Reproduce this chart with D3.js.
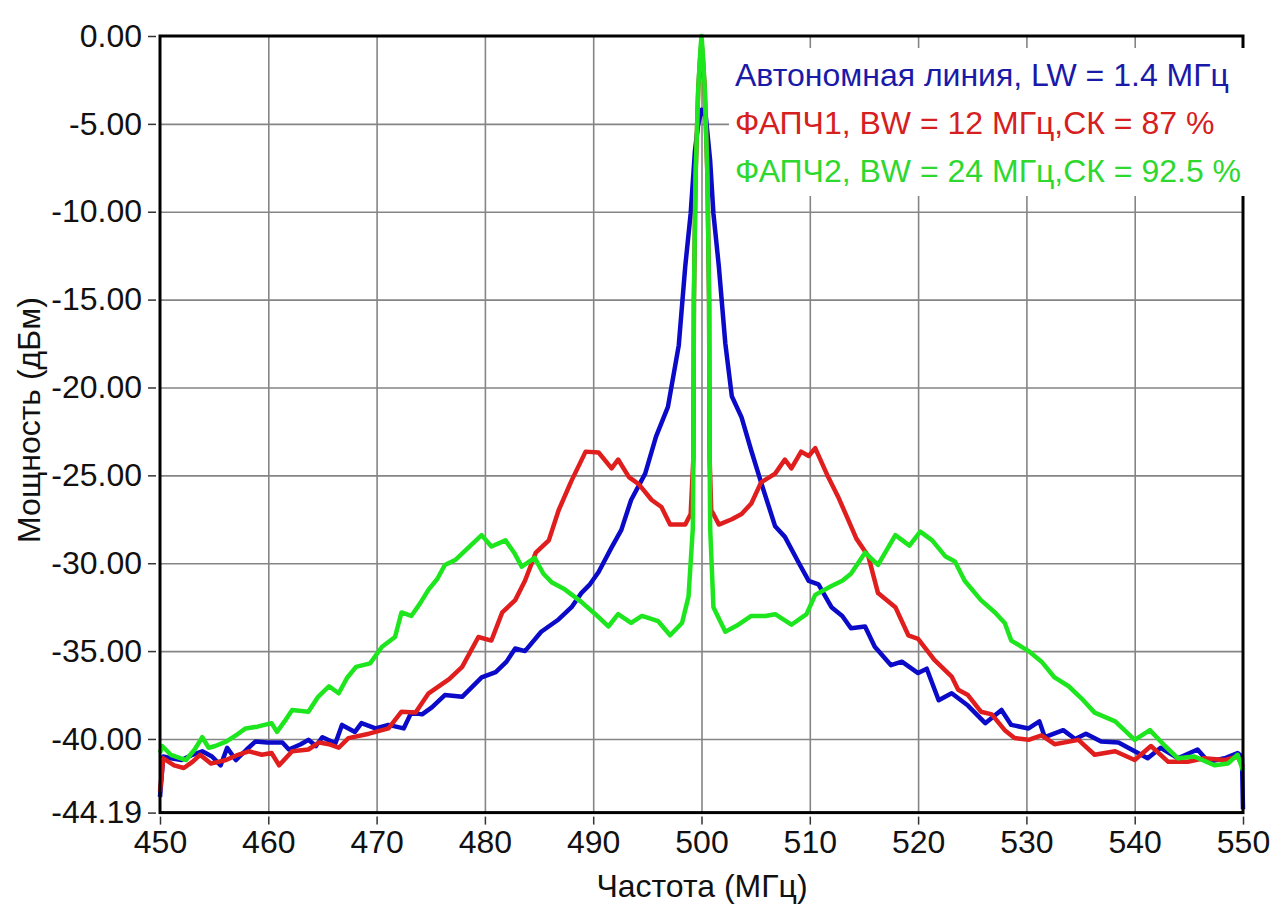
<!DOCTYPE html>
<html>
<head>
<meta charset="utf-8">
<script src="https://cdn.jsdelivr.net/npm/d3@7"></script>
<style>
  body { margin: 0; background: #fff; }
  svg { display: block; font-family: Arial, "Liberation Sans", sans-serif; }
</style>
</head>
<body>
<svg id="chart" width="1275" height="906"></svg>
<script>
// spectra: [frequency MHz, power dBm]
var blueSeries = [[450.0,-43.3],[450.3,-41.0],[451.0,-41.1],[452.0,-41.2],[453.0,-40.9],[453.9,-40.7],[454.8,-41.0],[455.6,-41.5],[456.2,-40.5],[457.0,-41.2],[458.0,-40.6],[458.8,-40.15],[459.9,-40.2],[461.3,-40.2],[461.9,-40.6],[463.0,-40.3],[463.7,-40.05],[464.4,-40.4],[465.0,-39.9],[466.2,-40.25],[466.8,-39.2],[468.0,-39.6],[468.6,-39.1],[469.9,-39.4],[471.1,-39.2],[472.5,-39.4],[473.2,-38.5],[474.2,-38.6],[475.1,-38.2],[476.3,-37.5],[477.9,-37.6],[479.7,-36.5],[481.0,-36.2],[482.0,-35.6],[482.8,-34.85],[483.7,-35.0],[485.2,-33.9],[486.8,-33.2],[488.0,-32.5],[488.9,-31.7],[489.7,-31.2],[490.5,-30.5],[491.7,-29.1],[492.6,-28.1],[493.5,-26.4],[494.8,-24.9],[495.8,-22.8],[496.9,-21.1],[497.9,-17.6],[498.5,-13.1],[499.0,-10.1],[499.4,-6.5],[499.7,-5.0],[500.0,-4.2],[500.4,-4.6],[500.8,-7.1],[501.1,-10.1],[501.6,-13.1],[502.2,-17.5],[502.8,-20.5],[503.7,-21.7],[504.6,-23.6],[505.5,-25.4],[506.8,-27.9],[507.7,-28.5],[509.0,-30.0],[509.9,-31.0],[510.8,-31.2],[512.0,-32.5],[513.0,-33.0],[513.8,-33.7],[515.1,-33.6],[516.0,-34.75],[517.5,-35.8],[518.5,-35.6],[520.0,-36.25],[520.8,-36.0],[521.9,-37.8],[523.1,-37.4],[524.6,-38.1],[526.2,-39.1],[527.7,-38.35],[528.6,-39.2],[530.2,-39.4],[531.2,-39.0],[531.7,-39.9],[533.4,-39.5],[534.5,-40.0],[535.5,-39.7],[536.9,-40.15],[538.5,-40.2],[540.0,-40.7],[541.2,-41.1],[542.4,-40.5],[544.0,-41.1],[545.8,-40.6],[546.8,-41.3],[548.3,-41.1],[549.5,-40.8],[549.9,-41.0],[550.0,-44.0]];

var redSeries = [[450.0,-43.0],[450.3,-41.1],[451.3,-41.5],[452.2,-41.65],[453.0,-41.3],[453.7,-40.9],[454.7,-41.4],[456.1,-41.2],[457.2,-40.9],[458.2,-40.7],[459.4,-40.9],[460.3,-40.8],[461.0,-41.5],[462.2,-40.7],[463.7,-40.6],[464.7,-40.2],[465.6,-40.3],[466.5,-40.5],[467.4,-39.95],[469.3,-39.7],[471.1,-39.4],[472.3,-38.45],[473.6,-38.5],[474.8,-37.4],[476.7,-36.6],[477.9,-35.9],[479.4,-34.2],[480.6,-34.4],[481.6,-32.8],[482.8,-32.1],[483.7,-31.0],[484.7,-29.4],[485.9,-28.7],[486.8,-27.0],[488.0,-25.3],[489.3,-23.65],[490.5,-23.7],[491.7,-24.6],[492.3,-24.1],[493.3,-25.1],[494.2,-25.5],[495.4,-26.4],[496.3,-26.8],[497.1,-27.8],[498.5,-27.8],[499.0,-27.2],[499.25,-24.0],[499.3,-15.0],[499.45,-8.0],[499.7,-3.0],[499.9,-1.0],[500.0,-0.4],[500.1,-1.0],[500.3,-3.0],[500.55,-8.0],[500.7,-15.0],[500.75,-24.0],[500.9,-27.0],[501.1,-27.2],[501.6,-27.8],[502.8,-27.5],[503.7,-27.2],[504.6,-26.6],[505.5,-25.4],[506.8,-24.9],[507.7,-24.1],[508.3,-24.6],[509.2,-23.65],[509.9,-23.9],[510.5,-23.45],[511.7,-25.1],[512.6,-26.2],[513.6,-27.6],[514.3,-28.6],[515.4,-29.6],[516.3,-31.7],[517.9,-32.5],[519.1,-34.1],[520.0,-34.3],[521.5,-35.5],[523.1,-36.45],[523.7,-37.2],[524.6,-37.5],[525.8,-38.45],[526.8,-38.6],[528.0,-39.5],[528.9,-39.95],[530.2,-40.05],[531.4,-39.8],[532.6,-40.3],[534.8,-40.05],[536.3,-40.9],[538.2,-40.7],[540.0,-41.2],[541.5,-40.4],[543.1,-41.3],[544.9,-41.3],[546.4,-41.1],[548.3,-41.2],[549.5,-41.0],[550.0,-41.6]];

var greenSeries = [[450.0,-40.8],[450.2,-40.4],[451.0,-40.9],[452.4,-41.2],[453.2,-40.6],[453.9,-39.9],[454.5,-40.5],[455.1,-40.4],[456.1,-40.15],[457.0,-39.8],[457.9,-39.4],[459.0,-39.3],[460.3,-39.1],[460.8,-39.6],[461.5,-39.0],[462.2,-38.35],[463.7,-38.45],[464.6,-37.6],[465.6,-37.0],[466.5,-37.4],[467.3,-36.5],[468.1,-35.9],[469.4,-35.7],[470.5,-34.75],[471.7,-34.2],[472.3,-32.8],[473.2,-33.0],[474.0,-32.3],[474.8,-31.5],[475.6,-30.9],[476.3,-30.1],[477.3,-29.8],[478.5,-29.1],[479.7,-28.4],[480.6,-29.05],[481.9,-28.7],[482.7,-29.4],[483.4,-30.2],[484.6,-29.7],[485.4,-30.6],[486.2,-31.1],[487.4,-31.5],[488.9,-32.2],[490.2,-32.9],[491.4,-33.6],[492.3,-32.9],[493.5,-33.4],[494.5,-33.0],[496.0,-33.3],[497.1,-34.1],[498.2,-33.4],[498.8,-31.9],[499.2,-28.0],[499.25,-24.0],[499.3,-15.0],[499.45,-8.0],[499.7,-3.0],[499.9,-0.8],[500.0,0.0],[500.1,-0.8],[500.3,-3.0],[500.55,-8.0],[500.7,-15.0],[500.75,-24.0],[500.8,-28.0],[501.1,-32.5],[502.2,-33.9],[503.4,-33.5],[504.6,-33.0],[505.9,-33.0],[506.8,-32.9],[508.3,-33.5],[509.7,-32.9],[510.5,-31.8],[512.0,-31.3],[513.0,-31.0],[513.8,-30.6],[515.1,-29.4],[516.3,-30.1],[517.9,-28.4],[519.2,-29.0],[520.2,-28.2],[521.3,-28.7],[522.5,-29.6],[523.4,-29.9],[524.3,-31.0],[525.8,-32.1],[527.1,-32.8],[528.0,-33.4],[528.6,-34.4],[530.2,-35.0],[531.4,-35.6],[532.6,-36.5],[533.9,-37.0],[535.1,-37.7],[536.3,-38.5],[538.2,-39.0],[540.0,-40.05],[541.4,-39.5],[542.8,-40.4],[544.0,-41.1],[545.5,-41.0],[547.4,-41.5],[548.6,-41.4],[549.5,-40.9],[550.0,-41.8]];

var xTicks = [450, 460, 470, 480, 490, 500, 510, 520, 530, 540, 550];
var yTicks = [0, -5, -10, -15, -20, -25, -30, -35, -40, -44.19];

var legendLabels = ["Автономная линия, LW = 1.4 МГц", "ФАПЧ1, BW = 12 МГц,СК = 87 %", "ФАПЧ2, BW = 24 МГц,СК = 92.5 %"];
var lineColors = ["#0a0ac8", "#e01e1e", "#1ee61e"];
var textColors = ["#1a1aa8", "#d62020", "#2ed82e"];

var svg = d3.select("#chart");
// plot box in pixels
var pL = 160, pR = 1243, pT = 36, pB = 812.6;

var x = d3.scaleLinear().domain([450, 550]).range([pL, pR]);
var y = d3.scaleLinear().domain([-44.19, 0]).range([pB, pT]);

// grid
svg.append("g")
  .attr("transform", "translate(0," + pB + ")")
  .call(d3.axisBottom(x).tickValues(xTicks.slice(1, -1)).tickSize(-(pB - pT)).tickFormat(""))
  .call(function(g){ g.select(".domain").remove(); })
  .selectAll("line").attr("stroke", "#858585").attr("stroke-width", 1.6);

svg.append("g")
  .attr("transform", "translate(" + pL + ",0)")
  .call(d3.axisLeft(y).tickValues(yTicks.slice(1, -1)).tickSize(-(pR - pL)).tickFormat(""))
  .call(function(g){ g.select(".domain").remove(); })
  .selectAll("line").attr("stroke", "#858585").attr("stroke-width", 1.6);

// axes, ticks sit a little off the frame
var xAxis = svg.append("g")
  .attr("transform", "translate(0," + (pB + 4) + ")")
  .call(d3.axisBottom(x).tickValues(xTicks).tickSize(8).tickPadding(6).tickFormat(d3.format("d")));
var yAxis = svg.append("g")
  .attr("transform", "translate(" + (pL - 4) + ",0)")
  .call(d3.axisLeft(y).tickValues(yTicks).tickSize(8).tickPadding(6)
    .tickFormat(function(d){ return d.toFixed(2); }));

[xAxis, yAxis].forEach(function(a){
  a.select(".domain").remove();
  a.selectAll("line").attr("stroke", "#333").attr("stroke-width", 1.5);
  a.selectAll("text").attr("fill", "#111").style("font-size", "32px").style("font-family", "Arial, 'Liberation Sans', sans-serif");
});

// curves
var line = d3.line()
  .x(function(d){ return x(d[0]); })
  .y(function(d){ return y(d[1]); });

[blueSeries, redSeries, greenSeries].forEach(function(s, i){
  svg.append("path")
    .datum(s)
    .attr("d", line)
    .attr("fill", "none")
    .attr("stroke", lineColors[i])
    .attr("stroke-width", 4.5)
    .attr("stroke-linejoin", "round");
});

// frame
svg.append("rect")
  .attr("x", pL).attr("y", pT)
  .attr("width", pR - pL).attr("height", pB - pT)
  .attr("fill", "none").attr("stroke", "#000").attr("stroke-width", 3);

// legend
svg.append("rect")
  .attr("x", 729).attr("y", 48).attr("width", 528).attr("height", 148)
  .attr("fill", "#fff");

svg.append("g").selectAll("text")
  .data(legendLabels)
  .enter().append("text")
  .attr("x", 735)
  .attr("y", function(d, i){ return 86 + i * 48; })
  .attr("fill", function(d, i){ return textColors[i]; })
  .style("font-size", "32px")
  .text(function(d){ return d; });

// axis titles
svg.append("text")
  .attr("x", 702).attr("y", 897)
  .attr("text-anchor", "middle")
  .style("font-size", "32px").attr("fill", "#111")
  .text("Частота (МГц)");

svg.append("text")
  .attr("transform", "translate(40,420) rotate(-90)")
  .attr("text-anchor", "middle")
  .style("font-size", "32px").attr("fill", "#111")
  .text("Мощность (дБм)");
</script>
</body>
</html>
